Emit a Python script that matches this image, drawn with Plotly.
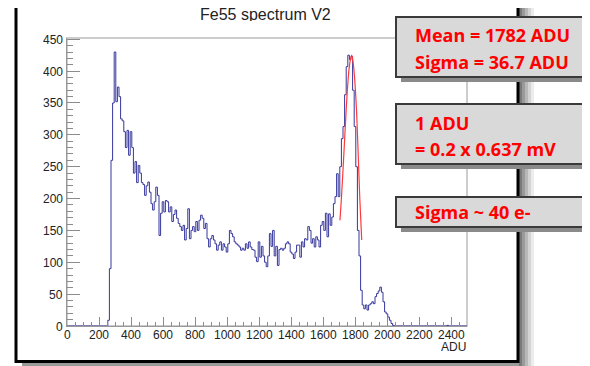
import numpy as np
import plotly.graph_objects as go

# ---------------- data ----------------
bin_width = 10
first_edge = 255
counts = [9, 90, 260, 350, 430, 352, 375, 360, 325, 322,
          305, 280, 307, 268, 305, 280, 240, 258, 225, 252,
          240, 225, 222, 205, 220, 226, 210, 192, 182, 195,
          218, 205, 142, 177, 195, 179, 197, 195, 179, 187,
          164, 175, 182, 169, 161, 156, 150, 158, 135, 153,
          184, 137, 150, 156, 148, 164, 150, 166, 174, 169,
          153, 161, 137, 124, 137, 142, 135, 129, 119, 127,
          132, 119, 129, 124, 116, 129, 150, 145, 140, 132,
          129, 127, 124, 119, 122, 119, 129, 122, 132, 124,
          120, 119, 108, 101, 132, 108, 125, 110, 100, 93,
          110, 145, 125, 150, 110, 125, 95, 120, 122, 119,
          122, 129, 132, 129, 116, 113, 106, 116, 127, 127,
          108, 132, 124, 137, 135, 156, 150, 130, 137, 124,
          140, 135, 124, 158, 164, 150, 177, 140, 176, 158,
          171, 192, 203, 239, 203, 250, 294, 313, 363, 407,
          425, 418, 423, 370, 313, 250, 150, 110, 56, 33,
          27, 33, 25, 33, 35, 38, 35, 46, 51, 55,
          61, 53, 38, 22, 19, 14, 9, 4, 1, 0]
blip_edge = 2375
blip_count = 1

fit_x = [1706, 1715, 1725, 1735, 1745, 1755, 1765, 1779, 1790, 1800,
         1810, 1820, 1830, 1842]
fit_y = [166, 200, 245, 292, 340, 380, 408, 425, 410, 380,
         335, 270, 200, 135]

x_tick_vals = [0, 200, 400, 600, 800, 1000, 1200, 1400, 1600, 1800, 2000, 2200, 2400]
y_tick_vals = [0, 50, 100, 150, 200, 250, 300, 350, 400, 450]

title_text = "Fe55 spectrum V2"
x_title = "ADU"
box_texts = [["Mean = 1782 ADU", "Sigma = 36.7 ADU"],
             ["1 ADU", "= 0.2 x 0.637 mV"],
             ["Sigma ~ 40 e-"]]

# ---------------- build histogram outline ----------------
n = len(counts)
edges = first_edge + bin_width * np.arange(n + 1)
hx = [0] + list(edges[:-1]) + [blip_edge, blip_edge + bin_width, 2500]
hy = [0] + list(counts) + [blip_count, 0, 0]

# ---------------- layout helpers (screen pixel -> paper) ----------------
S = 8  # page body margin
W, H = 590 - S, 366 - S
L, R, T, B = 67, 467, 38, 326  # plot area in screen pixels


def PX(p):
    return (p - L) / (R - L)


def PY(p):
    return (B - p) / (B - T)


fig = go.Figure()
fig.add_trace(go.Scatter(x=hx, y=hy, mode="lines", line=dict(color="#36369c", width=1, shape="hv"),
                         hoverinfo="skip", showlegend=False))
fig.add_trace(go.Scatter(x=fit_x, y=fit_y, mode="lines",
                         line=dict(color="#ff3a3a", width=1.2, shape="spline"),
                         hoverinfo="skip", showlegend=False))

FONT = "Liberation Sans, Arial, sans-serif"
TXT = "#222222"

fig.update_layout(
    width=W, height=H,
    margin=dict(l=L - S, r=W - (R - S), t=T - S, b=H - (B - S), pad=0),
    paper_bgcolor="white", plot_bgcolor="white",
    showlegend=False,
    xaxis=dict(range=[0, 2500], tickmode="array", tickvals=x_tick_vals, showticklabels=False,
               ticks="inside", ticklen=9, tickcolor="#8c8c8c", tickwidth=1,
               minor=dict(dtick=50, ticklen=4, ticks="inside", tickcolor="#8c8c8c", tickwidth=1),
               showgrid=False, zeroline=False, showline=True, linecolor="#999999", linewidth=1,
               fixedrange=True, automargin=False),
    yaxis=dict(range=[0, 452], tickmode="array", tickvals=y_tick_vals, showticklabels=False,
               ticks="inside", ticklen=13, tickcolor="#8c8c8c", tickwidth=1,
               minor=dict(dtick=10, ticklen=6, ticks="inside", tickcolor="#8c8c8c", tickwidth=1),
               showgrid=False, zeroline=False, showline=True, linecolor="#999999", linewidth=1,
               fixedrange=True, automargin=False),
)

shapes = []
annotations = []

# tick labels
for v in x_tick_vals:
    annotations.append(dict(x=v, xref="x", y=PY(334), yref="paper", text=str(v), showarrow=False,
                            height=11, xanchor="center", yanchor="middle",
                            font=dict(family=FONT, size=12, color=TXT)))
for v in y_tick_vals:
    annotations.append(dict(x=PX(64.5), xref="paper", y=v, yref="y", text=str(v), showarrow=False,
                            height=11, xanchor="right", yanchor="middle",
                            font=dict(family=FONT, size=12, color=TXT)))

# plot frame (light grey)
shapes.append(dict(type="rect", xref="paper", yref="paper", x0=0, x1=1, y0=0, y1=1,
                   line=dict(color="#cccccc", width=2), layer="below"))
# canvas shadow (right & bottom)
for i, c in enumerate(["#7a7a7a", "#9a9a9a", "#b8b8b8", "#d4d4d4", "#ececec"]):
    shapes.append(dict(type="rect", xref="paper", yref="paper",
                       x0=PX(519 + 3 * i), x1=PX(522 + 3 * i), y0=PY(366), y1=PY(6),
                       line=dict(width=0), fillcolor=c, layer="above"))
shapes.append(dict(type="rect", xref="paper", yref="paper",
                   x0=PX(22), x1=PX(519), y0=PY(366), y1=PY(363),
                   line=dict(width=0), fillcolor="#9a9a9a", layer="above"))
# canvas black border
shapes.append(dict(type="rect", xref="paper", yref="paper",
                   x0=PX(16), x1=PX(518), y0=PY(361.5), y1=PY(-5),
                   line=dict(color="black", width=3), layer="above"))

annotations.append(dict(x=PX(265.5), y=PY(14.5), xref="paper", yref="paper", text=title_text,
                        showarrow=False, xanchor="center", yanchor="middle", height=14,
                        font=dict(family=FONT, size=16, color=TXT)))
annotations.append(dict(x=PX(467.5), y=PY(346.5), xref="paper", yref="paper", text=x_title,
                        showarrow=False, xanchor="right", yanchor="middle", height=11,
                        font=dict(family=FONT, size=12, color=TXT)))

boxes = [(17, 77), (104, 164), (197, 227)]
line_offsets = [[18, 45], [19, 45], [15]]
for (y0, y1), lines, offs in zip(boxes, box_texts, line_offsets):
    shapes.append(dict(type="rect", xref="paper", yref="paper",
                       x0=PX(401), x1=PX(600), y0=PY(y1 + 5), y1=PY(y0 + 5),
                       line=dict(width=0), fillcolor="#8a8a8a", layer="above"))
    shapes.append(dict(type="rect", xref="paper", yref="paper",
                       x0=PX(396), x1=PX(600), y0=PY(y1), y1=PY(y0),
                       line=dict(color="#3a3a3a", width=2), fillcolor="#d9d9d9", layer="above"))
    for t, o in zip(lines, offs):
        annotations.append(dict(x=PX(413), y=PY(y0 + o), xref="paper", yref="paper",
                                text="<b>" + t + "</b>", showarrow=False,
                                xanchor="left", yanchor="middle",
                                font=dict(family="Open Sans, sans-serif", size=18, color="#ff0000")))

fig.update_layout(shapes=shapes, annotations=annotations)
fig.write_html("out.html")
